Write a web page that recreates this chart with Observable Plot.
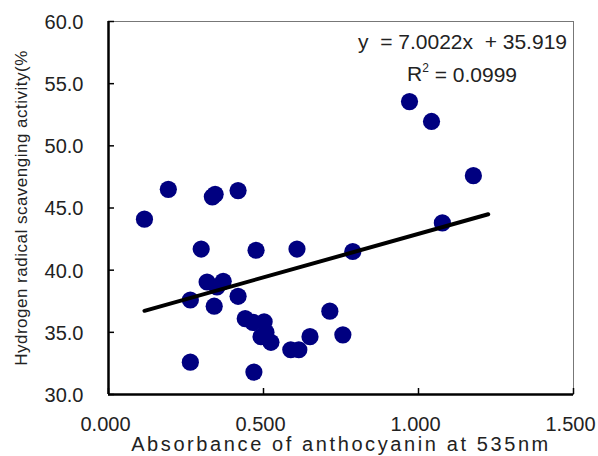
<!DOCTYPE html>
<html>
<head>
<meta charset="utf-8">
<script src="https://cdn.jsdelivr.net/npm/d3@7"></script>
<script src="https://cdn.jsdelivr.net/npm/@observablehq/plot@0.6"></script>
<style>
  html, body { margin: 0; padding: 0; background: #fff; }
  #chart svg { display: block; }
</style>
</head>
<body>
<div id="chart"></div>
<script>
// Data
const absorbance = [0.116, 0.193, 0.335, 0.344, 0.418, 0.299, 0.476, 0.608, 0.788,
  0.318, 0.370, 0.350, 0.264, 0.341, 0.418, 0.441, 0.466, 0.502, 0.508, 0.492, 0.524,
  0.264, 0.469, 0.588, 0.614, 0.650, 0.714, 0.756, 1.077, 0.971, 1.042, 1.177];
const scavenging = [44.1, 46.5, 45.9, 46.1, 46.4, 41.7, 41.6, 41.7, 41.5,
  39.05, 39.1, 38.65, 37.6, 37.1, 37.9, 36.1, 35.8, 35.85, 35.0, 34.65, 34.2,
  32.6, 31.8, 33.6, 33.6, 34.65, 36.7, 34.8, 43.8, 53.56, 51.96, 47.6];

const slope = 7.0022;
const intercept = 35.919;
const rSquared = "0.0999";
const trendRange = [0.116, 1.225];

const xTicks = [0, 0.5, 1.0, 1.5];
const yTicks = [30, 35, 40, 45, 50, 55, 60];

const xTitle = "Absorbance of anthocyanin at 535nm";
const yTitle = "Hydrogen radical scavenging activity(%";

const points = absorbance.map((x, i) => ({x, y: scavenging[i]}));
const trend = trendRange.map(x => ({x, y: slope * x + intercept}));

const W = 598, H = 456;
const mL = 108, mR = 25, mT = 21, mB = 62;
const plotW = W - mL - mR, plotH = H - mT - mB;
const font = "'Liberation Sans', Arial, sans-serif";

const chart = Plot.plot({
  width: W,
  height: H,
  marginLeft: mL,
  marginRight: mR,
  marginTop: mT,
  marginBottom: mB,
  style: {fontFamily: font, background: "#fff", color: "#222"},
  x: {domain: [0, 1.5]},
  y: {domain: [30, 60]},
  marks: [
    Plot.frame({stroke: "#777", strokeWidth: 1}),
    Plot.axisX(xTicks, {tickSize: 0, tickPadding: 22, fontSize: 20, dx: -3, tickFormat: d3.format(".3f"), label: null, fill: "#222"}),
    Plot.axisY(yTicks, {tickSize: 0, tickPadding: 25, fontSize: 20, dy: 1, tickFormat: d3.format(".1f"), label: null, fill: "#222"}),
    Plot.tickY(yTicks, {y: d => d, insetRight: plotW - 6, stroke: "#000", strokeWidth: 1.5}),
    Plot.tickX(xTicks, {x: d => d, insetTop: plotH - 6, stroke: "#000", strokeWidth: 1.5}),
    Plot.ruleX([0], {stroke: "#000", strokeWidth: 2.5}),
    Plot.ruleY([30], {stroke: "#000", strokeWidth: 2.5}),
    Plot.dot(points, {x: "x", y: "y", r: 8.6, fill: "#000080", stroke: "none"}),
    Plot.line(trend, {x: "x", y: "y", stroke: "#000", strokeWidth: 4, strokeLinecap: "round"}),
    Plot.text([`y  = ${slope}x  + ${intercept}`], {frameAnchor: "top-right", dx: -111, dy: 21, textAnchor: "middle", lineAnchor: "middle", fontSize: 21, fill: "#222"}),
    Plot.text([xTitle], {frameAnchor: "bottom", dy: 42, textAnchor: "middle", lineAnchor: "top", fontSize: 20, fill: "#222"}),
    Plot.text([yTitle], {frameAnchor: "left", dx: -87, rotate: -90, textAnchor: "middle", lineAnchor: "middle", fontSize: 17, fill: "#222"})
  ]
});

const svg = d3.select(chart);
// wide letter spacing on the x-axis title, as in the reference
svg.selectAll("text").filter(function() { return this.textContent === xTitle; })
  .attr("letter-spacing", "2.6px");
svg.selectAll("text").filter(function() { return this.textContent === yTitle; })
  .attr("letter-spacing", "0.5px");

// R² line with superscript, as real text
const r2 = svg.append("text")
  .attr("x", W - mR - 111)
  .attr("y", mT + 53)
  .attr("dy", "0.32em")
  .attr("text-anchor", "middle")
  .attr("font-family", font)
  .attr("font-size", 21)
  .attr("fill", "#222");
r2.append("tspan").text("R");
r2.append("tspan").attr("font-size", 12).attr("dy", "-0.7em").text("2");
r2.append("tspan").attr("dy", "0.45em").text(" = " + rSquared);

document.getElementById("chart").appendChild(chart);
</script>
</body>
</html>
